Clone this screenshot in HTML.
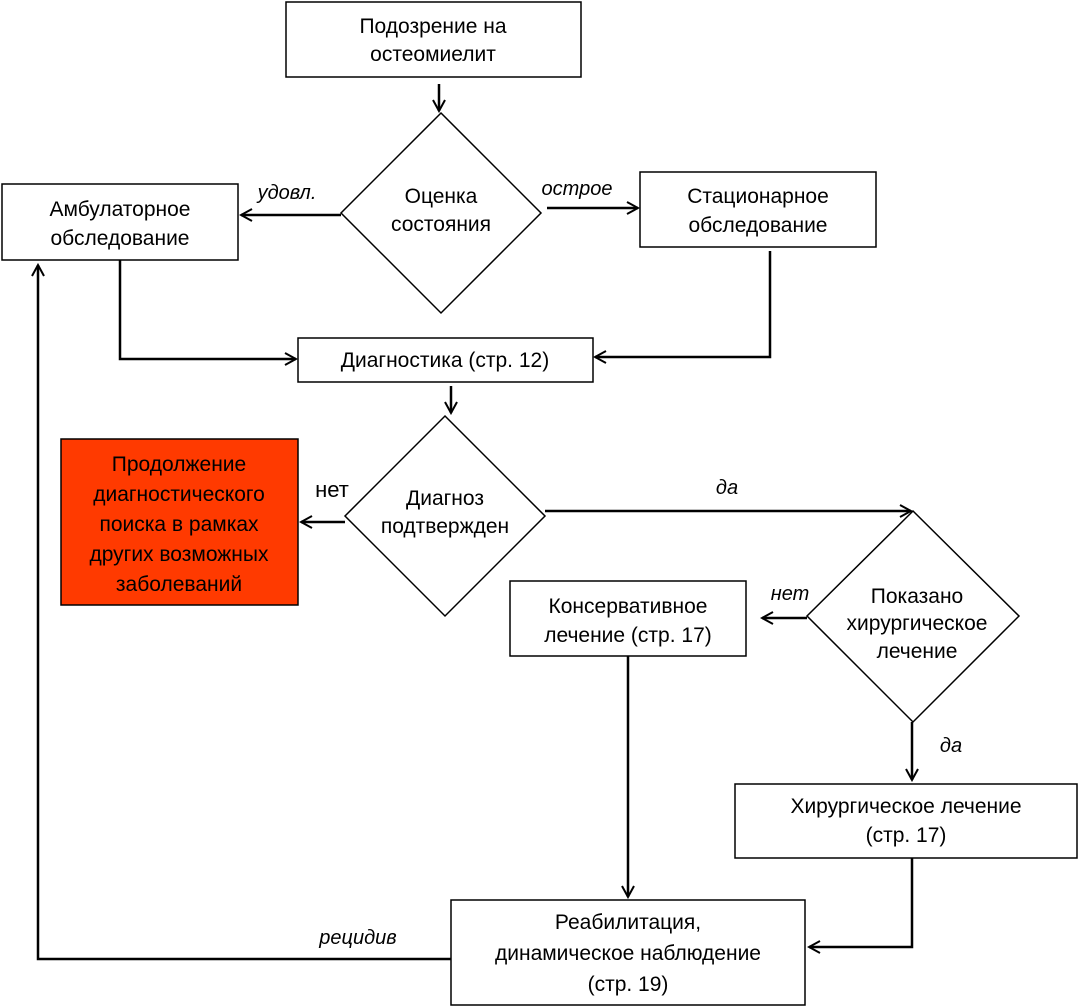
<!DOCTYPE html>
<html><head><meta charset="utf-8"><style>
html,body{margin:0;padding:0;background:#fff;}
svg{display:block;}
text{font-family:"Liberation Sans",sans-serif;font-size:21px;fill:#000;}
.i{font-style:italic;font-size:20px;}
</style></head><body>
<svg width="1079" height="1008" viewBox="0 0 1079 1008" xmlns="http://www.w3.org/2000/svg">
<defs>
<marker id="a" markerWidth="14" markerHeight="14" refX="12" refY="7" orient="auto" markerUnits="userSpaceOnUse">
<path d="M1,1 L12,7 L1,13" fill="none" stroke="#000" stroke-width="2"/>
</marker>
</defs>
<g fill="none" stroke="#000" stroke-width="1.5">
<rect x="286" y="2" width="295" height="75"/>
<polygon points="441,113 541,213 441,313 341,213"/>
<rect x="2" y="184" width="236" height="76"/>
<rect x="640" y="172" width="236" height="75"/>
<rect x="298" y="338" width="295" height="44"/>
<polygon points="445,416 545,516 445,616 345,516"/>
<polygon points="913,511 1019,616 913,722 807,616"/>
<rect x="510" y="581" width="236" height="75"/>
<rect x="735" y="784" width="342" height="74"/>
<rect x="451" y="900" width="354" height="105"/>
</g>
<rect x="61" y="439" width="237" height="166" fill="#FF3A00" stroke="#000" stroke-width="1.5"/>
<g fill="none" stroke="#000" stroke-width="2.5">
<line x1="439" y1="84" x2="439" y2="111" marker-end="url(#a)"/>
<line x1="341" y1="215" x2="241" y2="215" marker-end="url(#a)"/>
<line x1="547" y1="208" x2="638" y2="208" marker-end="url(#a)"/>
<polyline points="120,260 120,359 296,359" marker-end="url(#a)"/>
<polyline points="770,251 770,357 595,357" marker-end="url(#a)"/>
<line x1="451" y1="386" x2="451" y2="413" marker-end="url(#a)"/>
<line x1="345" y1="522" x2="301" y2="522" marker-end="url(#a)"/>
<line x1="545" y1="511" x2="911" y2="511" marker-end="url(#a)"/>
<line x1="807" y1="618" x2="762" y2="618" marker-end="url(#a)"/>
<line x1="912" y1="722" x2="912" y2="780" marker-end="url(#a)"/>
<polyline points="912,858 912,947 809,947" marker-end="url(#a)"/>
<line x1="628" y1="656" x2="628" y2="897" marker-end="url(#a)"/>
<polyline points="451,959 38,959 38,265" marker-end="url(#a)"/>
</g>
<g text-anchor="middle">
<text x="433" y="33">Подозрение на</text>
<text x="433" y="61">остеомиелит</text>
<text x="441" y="203">Оценка</text>
<text x="441" y="231">состояния</text>
<text x="120" y="216">Амбулаторное</text>
<text x="120" y="245">обследование</text>
<text x="758" y="203">Стационарное</text>
<text x="758" y="232">обследование</text>
<text x="445" y="367">Диагностика (стр. 12)</text>
<text x="445" y="505">Диагноз</text>
<text x="445" y="533">подтвержден</text>
<text x="179" y="471">Продолжение</text>
<text x="179" y="501">диагностического</text>
<text x="179" y="531">поиска в рамках</text>
<text x="179" y="561">других возможных</text>
<text x="179" y="591">заболеваний</text>
<text x="917" y="603">Показано</text>
<text x="917" y="630">хирургическое</text>
<text x="917" y="658">лечение</text>
<text x="628" y="613">Консервативное</text>
<text x="628" y="642">лечение (стр. 17)</text>
<text x="906" y="813">Хирургическое лечение</text>
<text x="906" y="842">(стр. 17)</text>
<text x="628" y="929">Реабилитация,</text>
<text x="628" y="960">динамическое наблюдение</text>
<text x="628" y="991">(стр. 19)</text>
<text class="i" x="287" y="199">удовл.</text>
<text class="i" x="577" y="195">острое</text>
<text x="332" y="497" style="font-size:22px">нет</text>
<text class="i" x="727" y="494">да</text>
<text class="i" x="790" y="600">нет</text>
<text class="i" x="951" y="752">да</text>
<text class="i" x="358" y="944">рецидив</text>
</g>
</svg>
</body></html>
